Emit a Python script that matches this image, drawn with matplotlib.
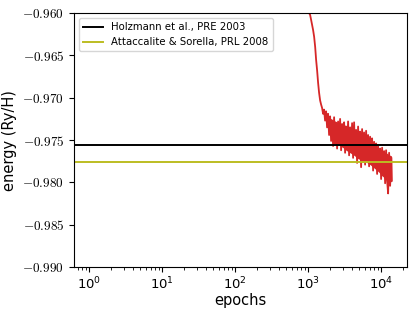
import numpy as np
import matplotlib
matplotlib.use("Agg")
import matplotlib.pyplot as plt
from matplotlib.ticker import FormatStrFormatter

plt.rcParams['mathtext.fontset'] = 'cm'

# reference energies (Ry/H)
holzmann_energy = -0.97563
attaccalite_energy = -0.97756

# training curve (epochs, energy)
epochs = [950, 1000, 1065, 1100, 1171, 1210, 1250, 1287, 1330, 1370, 1414, 1460, 1507,
          1555, 1605, 1656, 1709, 1764, 1820, 1878, 1939, 2002, 2066, 2132, 2200, 2271,
          2344, 2419, 2496, 2576, 2659, 2744, 2832, 2923, 3016, 3113, 3212, 3315, 3421,
          3531, 3644, 3761, 3881, 4005, 4134, 4266, 4403, 4544, 4689, 4839, 4994, 5155,
          5320, 5490, 5666, 5847, 6036, 6229, 6428, 6634, 6846, 7067, 7293, 7527, 7768,
          8016, 8275, 8540, 8813, 9095, 9386, 9689, 10000, 10320, 10651, 10992, 11344,
          11707, 12082, 12470, 12869, 13281, 13710, 14000]
energy = [-0.9580, -0.9598, -0.9602, -0.9608, -0.9620, -0.9628, -0.9640, -0.9655, -0.9668,
          -0.9682, -0.9694, -0.9703, -0.9708,
          -0.9712, -0.9719, -0.9714, -0.9727, -0.9716, -0.9735, -0.9719, -0.9744, -0.9722,
          -0.9751, -0.9727, -0.9757, -0.9723, -0.9754, -0.9730, -0.9760, -0.9728, -0.9756,
          -0.9725, -0.9762, -0.9731, -0.9758, -0.9729, -0.9765, -0.9734, -0.9761, -0.9728,
          -0.9768, -0.9735, -0.9764, -0.9730, -0.9771, -0.9729, -0.9767, -0.9738, -0.9777,
          -0.9734, -0.9770, -0.9740, -0.9782, -0.9737, -0.9776, -0.9741, -0.9779, -0.9739,
          -0.9773, -0.9744, -0.9781, -0.9746, -0.9777, -0.9748, -0.9786, -0.9752, -0.9782,
          -0.9754, -0.9790, -0.9757, -0.9786, -0.9760, -0.9796, -0.9759, -0.9792, -0.9763,
          -0.9801, -0.9762, -0.9798, -0.9813, -0.9765, -0.9804, -0.9770, -0.9798]

# dense core of the noisy band (epochs, upper, lower)
core_epochs = [1555, 1764, 2002, 2271, 2576, 2923, 3315, 3761, 4266, 4839, 5490, 6229,
               7067, 8016, 9095, 10320, 11707, 13281, 14000]
core_upper = [-0.9712, -0.9717, -0.9724, -0.9727, -0.9729, -0.9731, -0.9733, -0.9735,
              -0.9737, -0.9739, -0.9741, -0.9743, -0.9748, -0.9754, -0.9759, -0.9762,
              -0.9765, -0.9768, -0.9770]
core_lower = [-0.9714, -0.9728, -0.9745, -0.9752, -0.9755, -0.9758, -0.9762, -0.9765,
              -0.9768, -0.9772, -0.9774, -0.9776, -0.9779, -0.9783, -0.9787, -0.9792,
              -0.9797, -0.9800, -0.9798]

red = '#d62728'

fig = plt.figure(figsize=(4.15, 3.12), dpi=100)
ax = fig.add_axes([0.178, 0.144, 0.803, 0.814])

ax.fill_between(core_epochs, core_lower, core_upper, color=red, lw=0)
ax.plot(epochs, energy, color=red, lw=1.3)
ax.axhline(holzmann_energy, color='black', lw=1.4, label='Holzmann et al., PRE 2003')
ax.axhline(attaccalite_energy, color='#bcbd22', lw=1.4, label='Attaccalite & Sorella, PRL 2008')

ax.set_xscale('log')
ax.set_xlim(0.62, 22700)
ax.set_ylim(-0.990, -0.960)
ax.set_yticks(np.arange(-0.990, -0.9599, 0.005))
ax.yaxis.set_major_formatter(FormatStrFormatter(r'$%.3f$'))
ax.tick_params(labelsize=9.5)
ax.tick_params(axis='x', pad=2.5)

ax.set_xlabel('epochs', fontsize=10.5, labelpad=1)
ax.set_ylabel('energy (Ry/H)', fontsize=10.5)
ax.legend(loc='upper left', fontsize=7.3)

fig.savefig('out.png', dpi=100)
